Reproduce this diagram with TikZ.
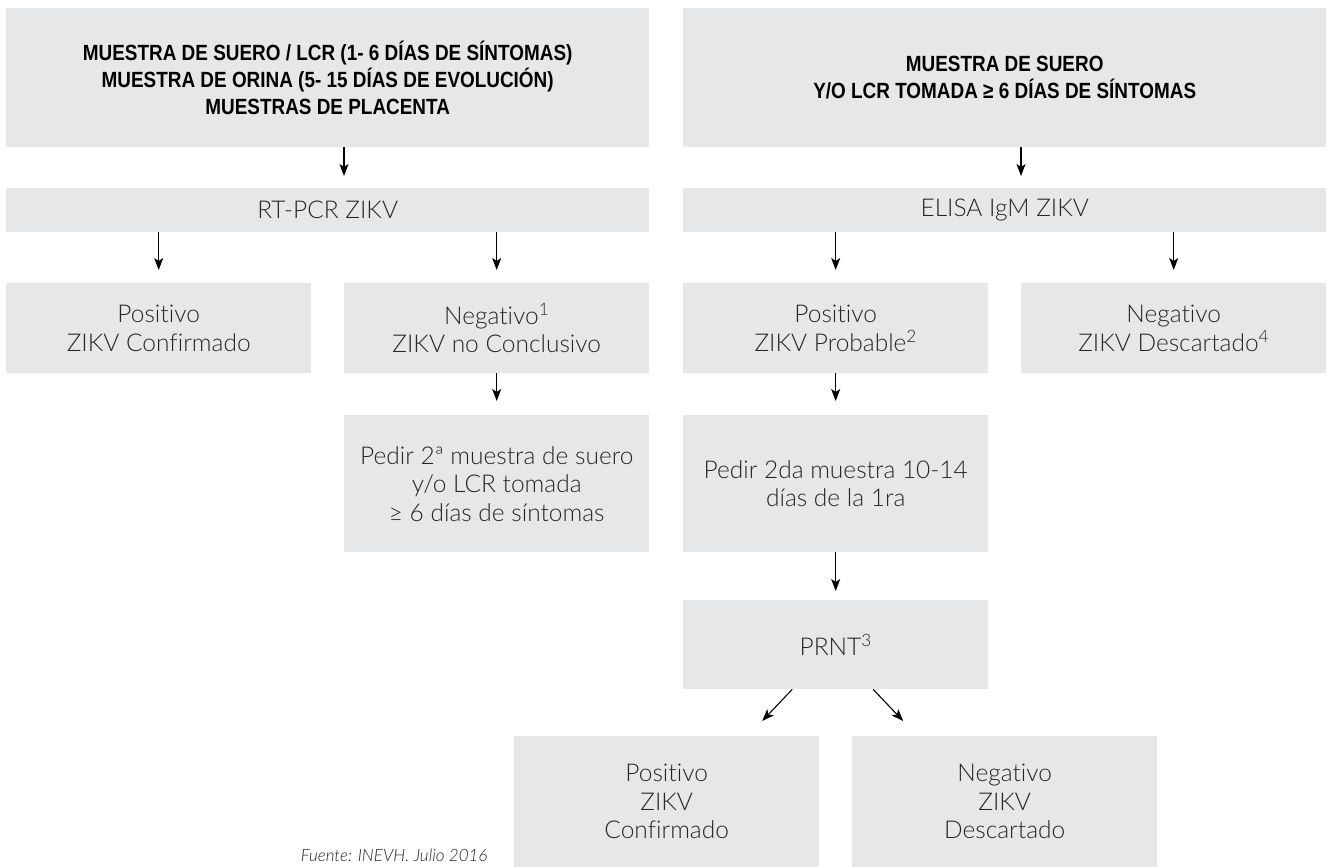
\documentclass[tikz,border=0pt]{standalone}
\usepackage{fontspec}
\setmainfont{Lato}[UprightFont=* Light, ItalicFont=* Light Italic, BoldFont=* Bold, Ligatures=NoCommon]
\newfontfamily\cabecera{Liberation Sans}[FakeStretch=0.86]
\usetikzlibrary{arrows.meta}
\definecolor{cajagris}{HTML}{E6E7E8}
\definecolor{textogris}{HTML}{262626}
\tikzset{
	caja/.style={rectangle, fill=cajagris, draw=none, inner sep=0pt, anchor=north west, align=center, text=textogris, font=\fontsize{24.5}{28.5}\selectfont},
	titulo/.style={caja, text=black, font=\cabecera\bfseries\fontsize{22}{27}\selectfont},
	flecha/.style={line width=1.1pt, draw=black, -{Stealth[length=12pt, width=9pt, inset=3pt]}}
}

\begin{document}
\begin{tikzpicture}[x=1pt, y=-1pt]
			%%%%% START %%%%%
			\useasboundingbox (0, 0) rectangle (1331, 867);
			
			\node[titulo, minimum width=643pt, minimum height=139pt] (muestraA) at (6, 8) {MUESTRA DE SUERO / LCR (1- 6 DÍAS DE SÍNTOMAS)\\MUESTRA DE ORINA (5- 15 DÍAS DE EVOLUCIÓN)\\MUESTRAS DE PLACENTA};
			\node[titulo, minimum width=643pt, minimum height=139pt] (muestraB) at (683, 8) {MUESTRA DE SUERO\\Y/O LCR TOMADA ≥ 6 DÍAS DE SÍNTOMAS};
			
			\node[caja, minimum width=643pt, minimum height=44pt] (rtpcr) at (6, 188) {RT-PCR ZIKV};
			\node[caja, minimum width=643pt, minimum height=44pt] (elisa) at (683, 188) {ELISA IgM ZIKV};
			
			\node[caja, minimum width=305pt, minimum height=90pt] (posA) at (6, 283) {Positivo\\ZIKV Confirmado};
			\node[caja, minimum width=305pt, minimum height=90pt] (negA) at (344, 283) {Negativo\textsuperscript{1}\\ZIKV no Conclusivo};
			\node[caja, minimum width=305pt, minimum height=90pt] (posB) at (683, 283) {Positivo\\ZIKV Probable\textsuperscript{2}};
			\node[caja, minimum width=305pt, minimum height=90pt] (negB) at (1021, 283) {Negativo\\ZIKV Descartado\textsuperscript{4}};
			
			\node[caja, minimum width=305pt, minimum height=137pt] (pedirA) at (344, 415) {Pedir 2ª muestra de suero\\y/o LCR tomada\\≥ 6 días de síntomas};
			\node[caja, minimum width=305pt, minimum height=137pt] (pedirB) at (683, 415) {Pedir 2da muestra 10-14\\días de la 1ra};
			
			\node[caja, minimum width=305pt, minimum height=89pt] (prnt) at (683, 600) {PRNT\textsuperscript{3}};
			
			\node[caja, minimum width=305pt, minimum height=131pt] (posC) at (514, 736) {Positivo\\ZIKV\\Confirmado};
			\node[caja, minimum width=305pt, minimum height=131pt] (negC) at (852, 736) {Negativo\\ZIKV\\Descartado};
			
			\node[anchor=base east, text=textogris, font=\itshape\fontsize{17}{20}\selectfont] (fuente) at (491, 861) {Fuente: INEVH. Julio 2016};
			
			% flechas
			\draw[flecha, shorten >=12pt] (muestraA.south -| negA.west) -- (rtpcr.north -| negA.west);
			\draw[flecha, shorten >=12pt] (muestraB.south -| negB.west) -- (elisa.north -| negB.west);
			
			\draw[flecha, shorten >=13pt] (rtpcr.south -| posA.north) -- (posA.north);
			\draw[flecha, shorten >=13pt] (rtpcr.south -| negA.north) -- (negA.north);
			\draw[flecha, shorten >=13pt] (elisa.south -| posB.north) -- (posB.north);
			\draw[flecha, shorten >=13pt] (elisa.south -| negB.north) -- (negB.north);
			
			\draw[flecha, shorten >=14pt] (negA.south) -- (pedirA.north);
			\draw[flecha, shorten >=14pt] (posB.south) -- (pedirB.north);
			\draw[flecha, shorten >=9pt] (pedirB.south) -- (prnt.north);
			
			\draw[flecha] ([xshift=-43.5pt]prnt.south) -- ([xshift=95.5pt, yshift=15pt]posC.north);
			\draw[flecha] ([xshift=37.5pt]prnt.south) -- ([xshift=-101.5pt, yshift=15pt]negC.north);
			
			%%%%% END %%%%%
\end{tikzpicture}
\end{document}
